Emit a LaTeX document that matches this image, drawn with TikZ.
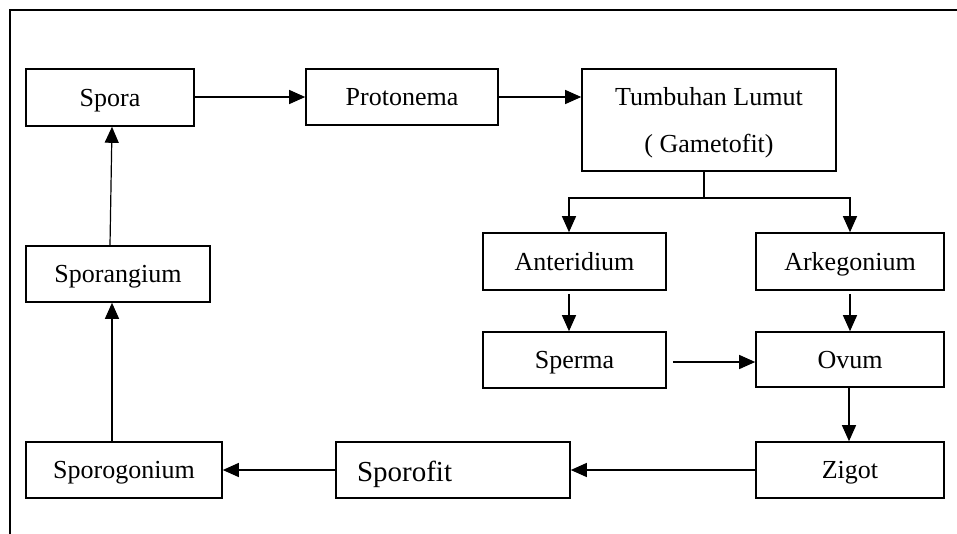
\documentclass[tikz,border=0pt]{standalone}
\usepackage{fontspec}
\setmainfont{Liberation Serif}
\usetikzlibrary{arrows.meta,positioning}
\tikzset{
  box/.style={draw, line width=1.6pt, inner sep=0pt, align=center,
    text height=20pt, text depth=3pt,
    font=\fontsize{26}{47}\selectfont},
  arr/.style={line width=1.2pt, -{Triangle[length=16pt,width=14pt]}},
  frame/.style={line width=2pt}
}
\begin{document}
\begin{tikzpicture}[x=1pt,y=-1pt]
\useasboundingbox (0,0) rectangle (957,533);
\draw[frame] (960,10) -- (10,10) -- (10,536);
% nodes
\node[box, minimum width=168, minimum height=57] (spora) at (110,97.5) {Spora};
\node[box, minimum width=192, minimum height=56] (proto) at (402,97) {Protonema};
\node[box, minimum width=254, minimum height=102, text height=67pt, text depth=3pt] (tumb) at (709,120) {Tumbuhan Lumut\\( Gametofit)};
\node[box, minimum width=183, minimum height=57] (ante) at (574.5,261.5) {Anteridium};
\node[box, minimum width=188, minimum height=57] (arke) at (850,261.5) {Arkegonium};
\node[box, minimum width=183, minimum height=56] (sperma) at (574.5,360) {Sperma};
\node[box, minimum width=188, minimum height=55] (ovum) at (850,359.5) {Ovum};
\node[box, minimum width=188, minimum height=56] (zigot) at (850,470) {Zigot};
\node[box, minimum height=56, inner xsep=21pt, text width=192pt, align=left,
  text height=22pt, text depth=0pt,
  font=\fontsize{29}{34}\selectfont] (sporofit) at (453,470) {Sporofit};
\node[box, minimum width=196, minimum height=56] (sporog) at (124,470) {Sporogonium};
\node[box, minimum width=184, minimum height=56] (sporang) at (118,274) {Sporangium};
\coordinate (br) at (704,198);
% connectors
\draw[arr] (spora.east) -- (proto.east -| spora.east) -- (proto.west);
\draw[arr] (proto.east) -- (proto.east -| tumb.west);
\draw[line width=1.2pt] (br |- tumb.south) -- (br);
\draw[arr] (br) -| ([xshift=-5.5pt]ante.north);
\draw[arr] (br) -| (arke.north);
\draw[arr] ([xshift=-5.5pt,yshift=-3pt]ante.south) -- ([xshift=-5.5pt]sperma.north);
\draw[arr] ([yshift=-3pt]arke.south) -- (ovum.north);
\draw[arr, shorten <=6pt] ([yshift=-2pt]sperma.east) -- ([yshift=-2pt]sperma.east -| ovum.west);
\draw[arr] ([xshift=-1pt]ovum.south) -- ([xshift=-1pt]zigot.north);
\draw[arr] (zigot.west) -- (sporofit.east);
\draw[arr] (sporofit.west) -- (sporog.east);
\draw[arr] ([xshift=-12pt]sporog.north) -- ([xshift=-6pt]sporang.south);
\draw[arr] ([xshift=-8pt]sporang.north) -- ([xshift=2pt]spora.south);
\end{tikzpicture}
\end{document}
